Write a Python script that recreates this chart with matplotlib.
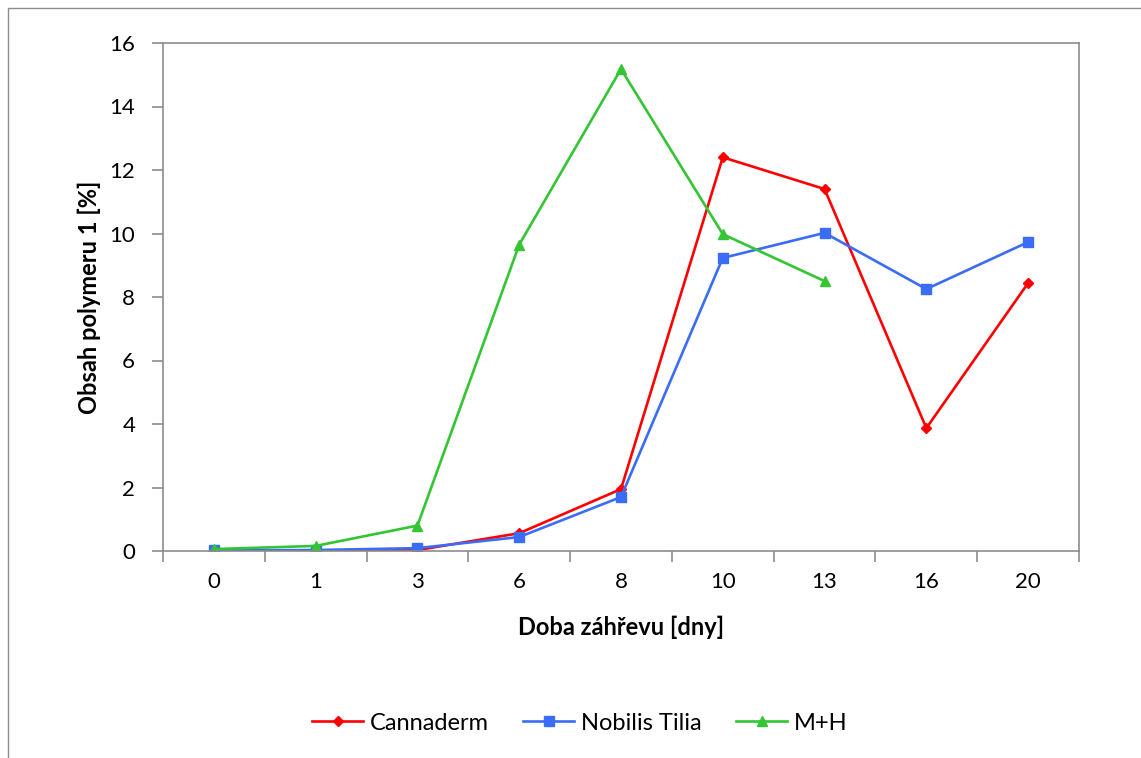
import matplotlib
matplotlib.use("Agg")
import matplotlib.pyplot as plt
from matplotlib.patches import Rectangle
import numpy as np

# heating time categories (days) and polymer content [%]
days = ["0", "1", "3", "6", "8", "10", "13", "16", "20"]
cannaderm = [0.0, 0.02, 0.03, 0.56, 1.95, 12.4, 11.4, 3.87, 8.44]
nobilis_tilia = [0.02, 0.03, 0.09, 0.44, 1.7, 9.23, 10.02, 8.25, 9.73]
mh = [0.06, 0.16, 0.8, 9.65, 15.18, 9.98, 8.5]

y_ticks = [0, 2, 4, 6, 8, 10, 12, 14, 16]

plt.rcParams["font.family"] = ["Lato", "DejaVu Sans"]

W, H = 1141, 758
fig = plt.figure(figsize=(W / 100, H / 100), dpi=100)
ax = fig.add_axes([163 / W, 1 - 551 / H, (1079 - 163) / W, (551 - 43) / H])

# outer chart frame (cropped on the right and bottom like the source)
fig.patches.append(Rectangle((8 / W, -0.05), 1.2, 1 - 8 / H + 0.05,
                             transform=fig.transFigure, fill=False,
                             edgecolor="#8c8c8c", lw=1.0))

x = np.arange(len(days))
lw = 1.9
ax.plot(x, cannaderm, color="#ff0000", lw=lw, marker="D", ms=5.5,
        label="Cannaderm")
ax.plot(x, nobilis_tilia, color="#3a6cf6", lw=lw, marker="s", ms=6.5,
        label="Nobilis Tilia")
ax.plot(x[:len(mh)], mh, color="#33c533", lw=lw, marker="^", ms=6.5,
        label="M+H")

ax.set_xlim(-0.5, len(days) - 0.5)
ax.set_ylim(0, 16)
ax.set_yticks(y_ticks)
ax.set_xticks(x)
ax.set_xticklabels(days)
ax.set_xticks(np.arange(-0.5, len(days)), minor=True)
ax.tick_params(axis="x", which="major", length=0, pad=15, labelsize=16)
ax.tick_params(axis="x", which="minor", length=8, width=1.2, color="#8c8c8c",
               direction="out")
ax.tick_params(axis="y", length=8, width=1.2, color="#8c8c8c",
               direction="out", labelsize=16, pad=12)
for s in ax.spines.values():
    s.set_color("#8c8c8c")
    s.set_linewidth(1.2)

ax.set_ylabel("Obsah polymeru 1 [%]", fontsize=17, fontweight="bold",
              va="center", ha="center")
ax.yaxis.set_label_coords((89 - 163) / 916, 0.5)
ax.set_xlabel("Doba záhřevu [dny]", fontsize=17, fontweight="bold",
              va="center", ha="center")
ax.xaxis.set_label_coords(0.5, (551 - 627) / 508)

fig.legend(loc="center", bbox_to_anchor=(580 / W, 1 - 723 / H), ncol=3,
           frameon=False, fontsize=17, handlelength=2.15, columnspacing=1.45,
           handletextpad=0.3)

fig.savefig("out.png", dpi=100)
